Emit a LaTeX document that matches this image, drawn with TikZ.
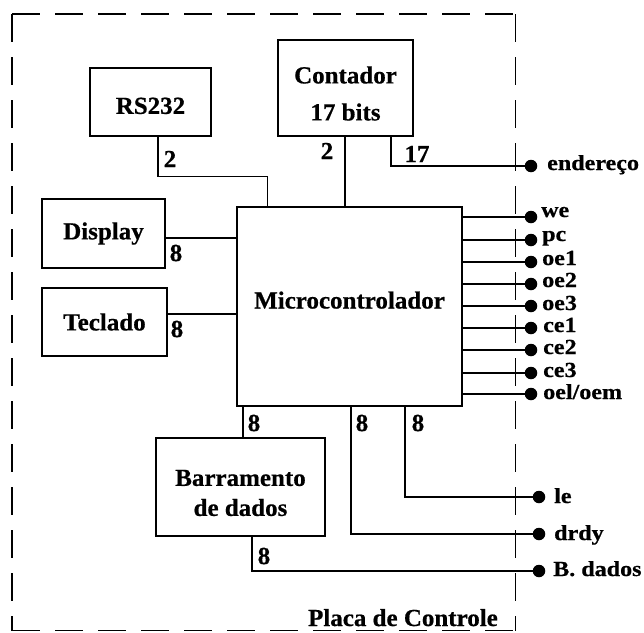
\documentclass[tikz,border=0pt]{standalone}
\usepackage{fontspec}
\setmainfont{Liberation Serif}
\newfontfamily\mainbf{Liberation Serif}[FakeStretch=1.02,FakeBold=0.6]
\newfontfamily\smallbf{Liberation Serif}[FakeStretch=1.12,FakeBold=0.6]
\usetikzlibrary{calc}
\begin{document}
\begin{tikzpicture}[x=1pt,y=-1pt,
  blk/.style={draw,line width=1.4pt,rectangle,inner sep=0pt,align=center,
    font=\mainbf\bfseries\fontsize{24.5}{36}\selectfont},
  wire/.style={line width=1.4pt},
  num/.style={inner sep=0pt,font=\mainbf\bfseries\fontsize{24.5}{28}\selectfont},
  sig/.style={inner sep=0pt,anchor=base west,font=\smallbf\bfseries\fontsize{21.5}{24}\selectfont},
  dotn/.style={fill=black,circle,inner sep=0pt,minimum size=12.5pt},
  frame/.style={line width=1.4pt,dash pattern=on 28pt off 15pt}]
\useasboundingbox (0,0) rectangle (644,632);
\fill[white] (0,0) rectangle (644,632);
\draw[frame] (12,14) -- (515.7,14);
\draw[frame] (12,14) -- (12,630.5);
\draw[frame] (515.7,14) -- (515.7,630.5);
\draw[frame] (12,630.5) -- (515.7,630.5);

\node[blk,minimum width=121pt,minimum height=68pt] (rs) at (150.5,102) {\rule{0pt}{24pt}RS232};
\node[blk,minimum width=135pt,minimum height=96pt,font=\mainbf\bfseries\fontsize{24.5}{37}\selectfont] (ct) at (345.5,88) {\rule{0pt}{28pt}Contador\\17 bits};
\node[blk,minimum width=123pt,minimum height=69pt] (dsp) at (103.5,233.5) {Display};
\node[blk,minimum width=125pt,minimum height=68pt] (tec) at (104.5,322) {Teclado};
\node[blk,minimum width=225pt,minimum height=199pt] (mc) at (349.5,306.5) {\rule[-13pt]{0pt}{0pt}Microcontrolador};
\node[blk,minimum width=169pt,minimum height=98pt,font=\mainbf\bfseries\fontsize{24.5}{30}\selectfont] (bd) at (240.5,487) {\rule{0pt}{28pt}Barramento\\de dados};

% dots
\node[dotn] (dEn) at (531,166) {};
\node[dotn] (dWe) at (531,217) {};
\node[dotn] (dPc) at (531,240) {};
\node[dotn] (dOe1) at (531,262) {};
\node[dotn] (dOe2) at (531,284) {};
\node[dotn] (dOe3) at (531,306) {};
\node[dotn] (dCe1) at (531,328) {};
\node[dotn] (dCe2) at (531,350) {};
\node[dotn] (dCe3) at (531,373) {};
\node[dotn] (dOel) at (531,394) {};
\node[dotn] (dLe) at (539,497) {};
\node[dotn] (dDr) at (539,534) {};
\node[dotn] (dBd) at (539,571) {};

% connectors
\draw[wire] ([xshift=7.5pt]rs.south) -- ++(0,40) -| ($(mc.north west)+(31,0)$);
\draw[wire] (mc.north -| 345,0) -- (ct.south -| 345,0);
\draw[wire] ([xshift=45.5pt]ct.south) |- (dEn.center);
\draw[wire] ([yshift=-4.5pt]dsp.east) -- ([yshift=-4.5pt]dsp.east -| mc.west);
\draw[wire] ([yshift=8pt]tec.east) -- ([yshift=8pt]tec.east -| mc.west);
\foreach \d in {dWe,dPc,dOe1,dOe2,dOe3,dCe1,dCe2,dCe3,dOel}
  \draw[wire] (mc.east |- \d) -- (\d.center);
\draw[wire] ([xshift=2.5pt]bd.north) -- ([xshift=2.5pt]bd.north |- mc.south);
\draw[wire] ([xshift=1.5pt]mc.south) |- (dDr.center);
\draw[wire] ([xshift=55.5pt]mc.south) |- (dLe.center);
\draw[wire] ([xshift=11.5pt]bd.south) |- (dBd.center);

% numbers
\node[num] (n1) at (170,159) {2};
\node[num] (n2) at (327,151) {2};
\node[num] (n3) at (417,154) {17};
\node[num] (n4) at (176,253) {8};
\node[num] (n5) at (177,329) {8};
\node[num] (n6) at (254,423) {8};
\node[num] (n7) at (362,423) {8};
\node[num] (n8) at (418,423) {8};
\node[num] (n9) at (264,556) {8};

% signal labels
\node[sig] (lEn) at ($(dEn)+(16,4)$) {endereço};
\node[sig] (lWe) at ($(dWe)+(10,0)$) {we};
\node[sig] (lPc) at ($(dPc)+(11,1)$) {pc};
\node[sig] (lOe1) at ($(dOe1)+(11,3)$) {oe1};
\node[sig] (lOe2) at ($(dOe2)+(11,3)$) {oe2};
\node[sig] (lOe3) at ($(dOe3)+(11,4)$) {oe3};
\node[sig] (lCe1) at ($(dCe1)+(12,4)$) {ce1};
\node[sig] (lCe2) at ($(dCe2)+(12,4)$) {ce2};
\node[sig] (lCe3) at ($(dCe3)+(12,4)$) {ce3};
\node[sig] (lOel) at ($(dOel)+(12,5)$) {oel/oem};
\node[sig] (lLe) at ($(dLe)+(15,6)$) {le};
\node[sig] (lDr) at ($(dDr)+(15,6)$) {drdy};
\node[sig] (lBd) at ($(dBd)+(14,5)$) {B. dados};

\node[num,anchor=base east] (pc) at (498,626) {Placa de Controle};
\end{tikzpicture}
\end{document}
